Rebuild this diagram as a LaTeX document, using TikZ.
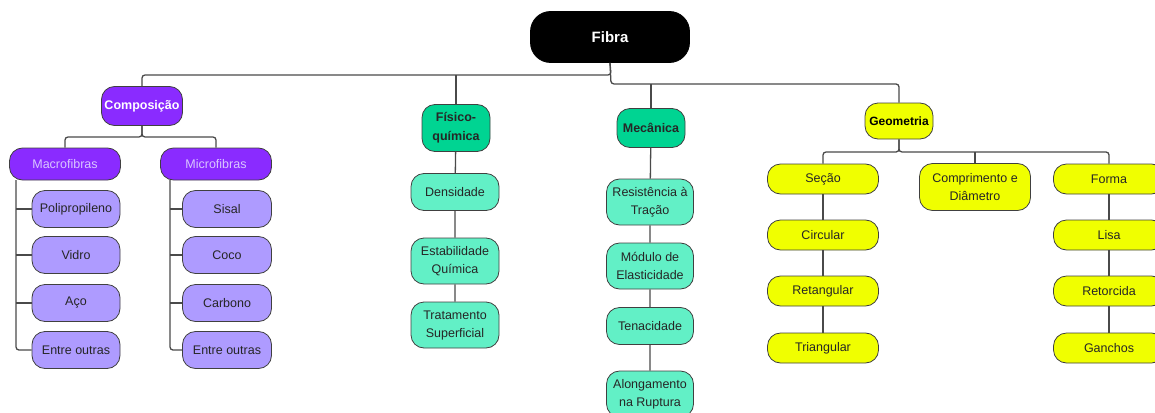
\documentclass[tikz,border=0pt]{standalone}
\usepackage{fontspec}
\setmainfont{Liberation Sans}
\usepackage{xcolor}
\usepackage{tikz}
\definecolor{roxo}{HTML}{8A2BFF}
\definecolor{lilas}{HTML}{AE9BFF}
\definecolor{lavanda}{HTML}{D9C6FF}
\definecolor{verde}{HTML}{00D492}
\definecolor{verdeclaro}{HTML}{62F0C6}
\definecolor{amarelo}{HTML}{F0FF00}
\definecolor{linha}{HTML}{4A4A4A}

\begin{document}
\begin{tikzpicture}[x=1pt,y=-1pt,
    caixa/.style={draw=black!75,line width=0.8pt,rounded corners=13pt,align=center,inner sep=1pt,
      text=black!85,font=\fontsize{12.5}{18}\selectfont},
    titulo/.style={caixa,font=\bfseries\fontsize{12.5}{19}\selectfont},
    liga/.style={draw=linha,line width=1.3pt,rounded corners=3pt}]
    \useasboundingbox (0,0) rectangle (1155,412);

    \node[caixa,fill=black,draw=black,text=white,rounded corners=20pt,minimum width=159pt,minimum height=51pt,
      font=\bfseries\fontsize{15}{18}\selectfont] (fibra) at (610,37) {Fibra};

    % Composicao
    \node[titulo,fill=roxo,text=white,minimum width=81pt,minimum height=39pt] (comp) at (142,106) {Composição};
    \node[caixa,fill=roxo,text=lavanda,minimum width=111pt,minimum height=32pt] (macro) at (65,164) {Macrofibras};
    \node[caixa,fill=roxo,text=lavanda,minimum width=111pt,minimum height=32pt] (micro) at (216,164) {Microfibras};
    \foreach \n/\t/\y in {poli/Polipropileno/209,vidro/Vidro/255,aco/Aço/303,outras1/Entre outras/350}
      \node[caixa,fill=lilas,minimum width=88pt,minimum height=37pt] (\n) at (76,\y) {\t};
    \foreach \n/\t/\y in {sisal/Sisal/209,coco/Coco/255,carbono/Carbono/303,outras2/Entre outras/350}
      \node[caixa,fill=lilas,minimum width=89pt,minimum height=37pt] (\n) at (227,\y) {\t};

    % Fisico-quimica
    \node[titulo,fill=verde,minimum width=68pt,minimum height=47pt] (fisq) at (456,128) {Físico-\\química};
    \node[caixa,fill=verdeclaro,minimum width=88pt,minimum height=37pt] (dens) at (455,192) {Densidade};
    \node[caixa,fill=verdeclaro,minimum width=88pt,minimum height=46pt] (estab) at (455,261) {Estabilidade\\Química};
    \node[caixa,fill=verdeclaro,minimum width=88pt,minimum height=46pt] (trat) at (455,325) {Tratamento\\Superficial};

    % Mecanica
    \node[titulo,fill=verde,minimum width=68pt,minimum height=39pt] (mec) at (651,128) {Mecânica};
    \node[caixa,fill=verdeclaro,minimum width=87pt,minimum height=46pt] (resist) at (650,202) {Resistência à\\Tração};
    \node[caixa,fill=verdeclaro,minimum width=87pt,minimum height=46pt] (modulo) at (650,266) {Módulo de\\Elasticidade};
    \node[caixa,fill=verdeclaro,minimum width=87pt,minimum height=37pt] (tenac) at (650,326) {Tenacidade};
    \node[caixa,fill=verdeclaro,minimum width=87pt,minimum height=46pt] (along) at (650,394) {Alongamento\\na Ruptura};

    % Geometria
    \node[titulo,fill=amarelo,text=black,minimum width=68pt,minimum height=36pt,font=\bfseries\fontsize{12}{18}\selectfont] (geo) at (899,121) {Geometria};
    \foreach \n/\t/\y in {secao/Seção/179,circ/Circular/235,retang/Retangular/291,triang/Triangular/348}
      \node[caixa,fill=amarelo,minimum width=111pt,minimum height=30pt] (\n) at (823,\y) {\t};
    \node[caixa,fill=amarelo,minimum width=111pt,minimum height=47pt] (compr) at (975,187) {Comprimento e\\Diâmetro};
    \foreach \n/\t/\y in {forma/Forma/179,lisa/Lisa/235,retorc/Retorcida/291,ganchos/Ganchos/348}
      \node[caixa,fill=amarelo,minimum width=111pt,minimum height=30pt] (\n) at (1109,\y) {\t};

    % ligacoes
    \coordinate (jesq) at (611,75);
    \coordinate (jdir) at (611,84);
    \coordinate (jcomp) at (142,137);
    \coordinate (jgeo) at (899,152);
    \coordinate (tmacro) at (16,180);
    \coordinate (tmicro) at (170,180);
    \draw[liga] (fibra.south) -- (jesq) -| (comp.north);
    \draw[liga] (fibra.south) -- (jdir) -| (geo.north);
    \draw[liga] (fisq.north) -- (fisq.north |- jesq);
    \draw[liga] (mec.north) -- (mec.north |- jdir);
    \draw[liga] (comp.south) -- (jcomp) -| (macro.north);
    \draw[liga] (comp.south) -- (jcomp) -| (micro.north);
    \draw[liga] (tmacro) |- (outras1.west);
    \draw[liga] (tmicro) |- (outras2.west);
    \foreach \n in {poli,vidro,aco} \draw[liga] (\n.west) -- (\n.west -| tmacro);
    \foreach \n in {sisal,coco,carbono} \draw[liga] (\n.west) -- (\n.west -| tmicro);
    \draw[liga] (fisq) -- (dens) -- (estab) -- (trat);
    \draw[liga] (mec) -- (resist) -- (modulo) -- (tenac) -- (along);
    \draw[liga] (geo.south) -- (jgeo) -| (secao.north);
    \draw[liga] (geo.south) -- (jgeo) -| (forma.north);
    \draw[liga] (compr.north) -- (compr.north |- jgeo);
    \draw[liga] (secao) -- (circ) -- (retang) -- (triang);
    \draw[liga] (forma) -- (lisa) -- (retorc) -- (ganchos);
  \end{tikzpicture}
\end{document}
